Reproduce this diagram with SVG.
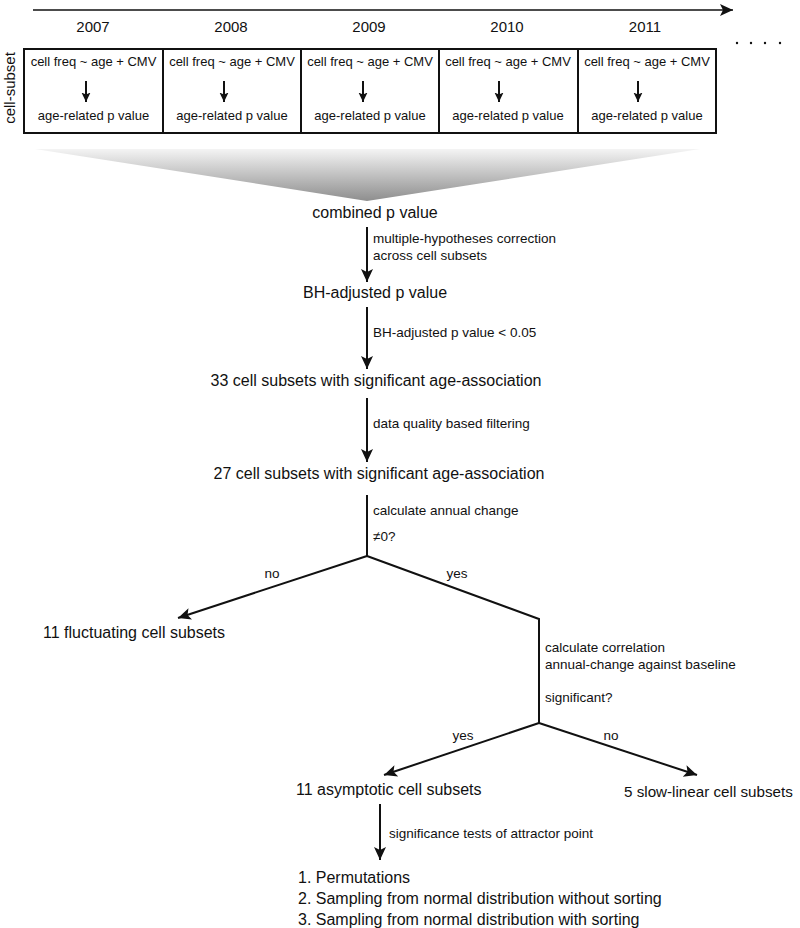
<svg xmlns="http://www.w3.org/2000/svg" width="800" height="928" viewBox="0 0 800 928">
<style>
text{font-family:"Liberation Sans",Arial,sans-serif;fill:#111}
.yr{font-size:15px;text-anchor:middle}
.bx{font-size:13px;text-anchor:middle}
.big{font-size:16px}
.mid{text-anchor:middle}
.lab{font-size:13.5px}
.ln{stroke:#111;stroke-width:2;fill:none}
.box{fill:#fff;stroke:#111;stroke-width:2}
</style>
<defs>
<marker id="ah" markerUnits="userSpaceOnUse" markerWidth="14" markerHeight="14" viewBox="0 0 14 14" refX="13" refY="7" orient="auto">
<path d="M0,1 L13,7 L0,13 L3,7 Z" fill="#111"/>
</marker>
<marker id="ahs" markerUnits="userSpaceOnUse" markerWidth="10" markerHeight="10" viewBox="0 0 10 10" refX="9.5" refY="5" orient="auto">
<path d="M0,0.5 L9.5,5 L0,9.5 L2,5 Z" fill="#111"/>
</marker>
<linearGradient id="fan" x1="0" y1="0" x2="0" y2="1">
<stop offset="0" stop-color="#f4f4f4"/>
<stop offset="1" stop-color="#8e8e8e"/>
</linearGradient>
</defs>

<g id="timeline">
<line x1="33" y1="10" x2="733" y2="10" stroke="#111" stroke-width="1.6" marker-end="url(#ah)"/>
<text class="yr" x="93" y="32">2007</text>
<text class="yr" x="231" y="32">2008</text>
<text class="yr" x="369" y="32">2009</text>
<text class="yr" x="507" y="32">2010</text>
<text class="yr" x="645" y="32">2011</text>
<g fill="#111">
<circle cx="737" cy="43" r="1.2"/><circle cx="751" cy="43" r="1.2"/><circle cx="765" cy="43" r="1.2"/><circle cx="780" cy="43" r="1.2"/>
</g>
<text x="15" y="88" font-size="15" text-anchor="middle" transform="rotate(-90 15 88)">cell-subset</text>
</g>

<g id="box-2007">
<rect class="box" x="24" y="49" width="139" height="84"/>
<text class="bx" x="93.5" y="66">cell freq ~ age + CMV</text>
<line class="ln" x1="86" y1="81" x2="86" y2="102" stroke-width="1.6" marker-end="url(#ahs)"/>
<text class="bx" x="93.5" y="120">age-related p value</text>
</g>
<g id="box-2008">
<rect class="box" x="163" y="49" width="138" height="84"/>
<text class="bx" x="232" y="66">cell freq ~ age + CMV</text>
<line class="ln" x1="224" y1="81" x2="224" y2="102" stroke-width="1.6" marker-end="url(#ahs)"/>
<text class="bx" x="232" y="120">age-related p value</text>
</g>
<g id="box-2009">
<rect class="box" x="301" y="49" width="138" height="84"/>
<text class="bx" x="370" y="66">cell freq ~ age + CMV</text>
<line class="ln" x1="363" y1="81" x2="363" y2="102" stroke-width="1.6" marker-end="url(#ahs)"/>
<text class="bx" x="370" y="120">age-related p value</text>
</g>
<g id="box-2010">
<rect class="box" x="439" y="49" width="139" height="84"/>
<text class="bx" x="508" y="66">cell freq ~ age + CMV</text>
<line class="ln" x1="499" y1="81" x2="499" y2="102" stroke-width="1.6" marker-end="url(#ahs)"/>
<text class="bx" x="508" y="120">age-related p value</text>
</g>
<g id="box-2011">
<rect class="box" x="578" y="49" width="138" height="84"/>
<text class="bx" x="647" y="66">cell freq ~ age + CMV</text>
<line class="ln" x1="638" y1="81" x2="638" y2="102" stroke-width="1.6" marker-end="url(#ahs)"/>
<text class="bx" x="647" y="120">age-related p value</text>
</g>

<g id="combine-fan">
<polygon points="35,149 700,149 367,201" fill="url(#fan)"/>
</g>

<g id="combined"><text class="big mid" x="375" y="218">combined p value</text></g>
<g id="bh"><text class="big mid" x="375" y="298">BH-adjusted p value</text></g>
<g id="n33"><text class="big mid" x="376" y="386">33 cell subsets with significant age-association</text></g>
<g id="n27"><text class="big mid" x="379" y="479">27 cell subsets with significant age-association</text></g>
<g id="fluct"><text class="big" x="43" y="638">11 fluctuating cell subsets</text></g>
<g id="asym"><text class="big" x="296" y="795">11 asymptotic cell subsets</text></g>
<g id="slow"><text x="624" y="797" font-size="15.2">5 slow-linear cell subsets</text></g>
<g id="tests">
<text class="big" x="298" y="883">1. Permutations</text>
<text class="big" x="298" y="904">2. Sampling from normal distribution without sorting</text>
<text class="big" x="298" y="925">3. Sampling from normal distribution with sorting</text>
</g>

<g id="connectors">
<line class="ln" x1="367" y1="227" x2="367" y2="282" marker-end="url(#ah)"/>
<line class="ln" x1="367" y1="307" x2="367" y2="369" marker-end="url(#ah)"/>
<line class="ln" x1="367" y1="398" x2="367" y2="462" marker-end="url(#ah)"/>
<polyline class="ln" points="367,495 367,556"/>
<line class="ln" x1="367" y1="556" x2="178" y2="618" marker-end="url(#ah)"/>
<polyline class="ln" points="367,556 539,619 539,723"/>
<line class="ln" x1="539" y1="723" x2="384" y2="775" marker-end="url(#ah)"/>
<line class="ln" x1="539" y1="723" x2="697" y2="775" marker-end="url(#ah)"/>
<line class="ln" x1="380" y1="804" x2="380" y2="860" marker-end="url(#ah)"/>

<text class="lab" x="373" y="243">multiple-hypotheses correction</text>
<text class="lab" x="373" y="260">across cell subsets</text>
<text class="lab" x="373" y="337">BH-adjusted p value &lt; 0.05</text>
<text class="lab" x="373" y="428">data quality based filtering</text>
<text class="lab" x="373" y="515">calculate annual change</text>
<text class="lab" x="373" y="541">≠0?</text>
<text class="lab mid" x="272" y="578">no</text>
<text class="lab mid" x="457" y="578">yes</text>
<text class="lab" x="545" y="652">calculate correlation</text>
<text class="lab" x="545" y="669">annual-change against baseline</text>
<text class="lab" x="545" y="702">significant?</text>
<text class="lab mid" x="463" y="740">yes</text>
<text class="lab mid" x="611" y="740">no</text>
<text class="lab" x="389" y="838">significance tests of attractor point</text>
</g>
</svg>
